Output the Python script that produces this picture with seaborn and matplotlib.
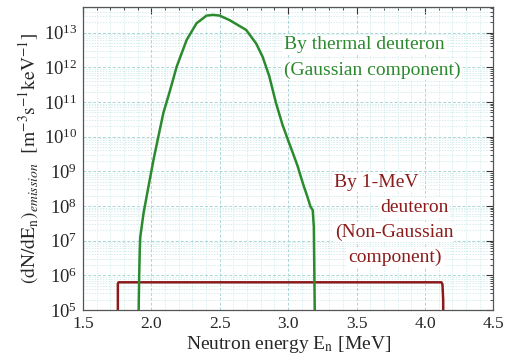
import numpy as np
import pandas as pd
import matplotlib
matplotlib.use("Agg")
import matplotlib.pyplot as plt
import matplotlib.ticker as mticker
import seaborn as sns

# ---- data ----
gauss_energy = [1.905, 1.908, 1.912, 1.916, 1.920, 1.944, 1.980, 2.017, 2.053, 2.089,
                2.138, 2.186, 2.259, 2.331, 2.404, 2.451, 2.500, 2.572, 2.645, 2.693,
                2.766, 2.814, 2.862, 2.911, 2.959, 3.007, 3.043, 3.070, 3.092, 3.116,
                3.140, 3.164, 3.180, 3.188, 3.196]
gauss_value = [3.2e4, 1.0e5, 1.0e6, 5.4e6, 1.3e7, 6.3e7, 3.7e8, 2.2e9, 1.05e10, 4.9e10,
               2.2e11, 1.05e12, 6.2e12, 1.86e13, 3.1e13, 3.25e13, 3.1e13, 2.3e13, 1.55e13, 1.2e13,
               4.9e12, 2.0e12, 5.6e11, 9.5e10, 2.2e10, 6.6e9, 2.75e9, 1.4e9, 7.2e8, 3.6e8,
               1.9e8, 9.5e7, 7.6e7, 2.5e7, 3.2e4]

nongauss_energy = [1.756, 1.756, 1.762, 4.12, 4.128, 4.133, 4.135]
nongauss_value = [3.0e4, 5.8e5, 6.3e5, 6.3e5, 5.5e5, 2.0e5, 3.0e4]

x_ticks = [1.5, 2.0, 2.5, 3.0, 3.5, 4.0, 4.5]

df_g = pd.DataFrame({"E": gauss_energy, "v": gauss_value})
df_n = pd.DataFrame({"E": nongauss_energy, "v": nongauss_value})

sns.set_style("white")
plt.rcParams["font.family"] = ["Liberation Serif", "DejaVu Serif"]
plt.rcParams["mathtext.fontset"] = "stix"

GREEN = "#2b8a2e"
RED = "#8b1c1c"

fig = plt.figure(figsize=(5.05, 3.62), dpi=100)
ax = fig.add_axes([0.164, 0.1436, 0.813, 0.8364])

sns.lineplot(data=df_n, x="E", y="v", sort=False, estimator=None, ax=ax,
             color=RED, lw=1.8)
sns.lineplot(data=df_g, x="E", y="v", sort=False, estimator=None, ax=ax,
             color=GREEN, lw=1.8)
for ln in ax.lines:
    ln.set_solid_joinstyle("round")

ax.set_yscale("log")
ax.set_xlim(1.5, 4.5)
ax.set_ylim(1e5, 5.4e13)

ax.xaxis.set_major_locator(mticker.FixedLocator(x_ticks))
ax.xaxis.set_major_formatter(mticker.FormatStrFormatter("%.1f"))
ax.xaxis.set_minor_locator(mticker.MultipleLocator(0.1))
ax.yaxis.set_major_locator(mticker.LogLocator(base=10, numticks=30))
ax.yaxis.set_minor_locator(mticker.LogLocator(base=10, subs=[2, 3, 4, 5, 6, 7, 8, 9], numticks=300))
ax.yaxis.set_minor_formatter(mticker.NullFormatter())

ax.tick_params(which="both", direction="in", top=True, right=True, color="#333333")
ax.tick_params(which="major", length=5, width=0.8, pad=4)
ax.tick_params(axis="x", which="major", labelsize=12.5)
ax.tick_params(axis="y", which="major", labelsize=13.5)
ax.tick_params(which="minor", length=2.5, width=0.6)

ax.grid(True, which="major", color="#a9d6d6", ls=(0, (3, 2)), lw=0.7)
ax.grid(True, which="minor", color="#c6e6e6", ls=(0, (2, 2)), lw=0.5)

for s in ax.spines.values():
    s.set_color("#555555")
    s.set_linewidth(0.9)

ax.set_xlabel(r"Neutron energy E$_{\mathrm{n}}$ [MeV]", fontsize=14, labelpad=2)
ax.set_ylabel(r"$(\mathrm{dN/dE_n})_{emission}$  $[\mathrm{m^{-3}s^{-1}keV^{-1}}]$",
              fontsize=14, labelpad=2)

box = dict(facecolor="white", edgecolor="none", pad=1.0)
fs = 14
ax.text(2.971, 10**12.65, "By thermal deuteron", color=GREEN, fontsize=fs,
        va="center", ha="left", bbox=box)
ax.text(2.971, 10**11.92, "(Gaussian component)", color=GREEN, fontsize=fs,
        va="center", ha="left", bbox=box)

ax.text(3.333, 10**8.68, "By 1-MeV", color=RED, fontsize=fs, va="center", ha="left", bbox=box)
ax.text(3.674, 10**7.95, "deuteron", color=RED, fontsize=fs, va="center", ha="left", bbox=box)
ax.text(3.34, 10**7.24, "(Non-Gaussian", color=RED, fontsize=fs, va="center", ha="left", bbox=box)
ax.text(3.442, 10**6.52, "component)", color=RED, fontsize=fs, va="center", ha="left", bbox=box)

fig.savefig("out.png", dpi=100)
